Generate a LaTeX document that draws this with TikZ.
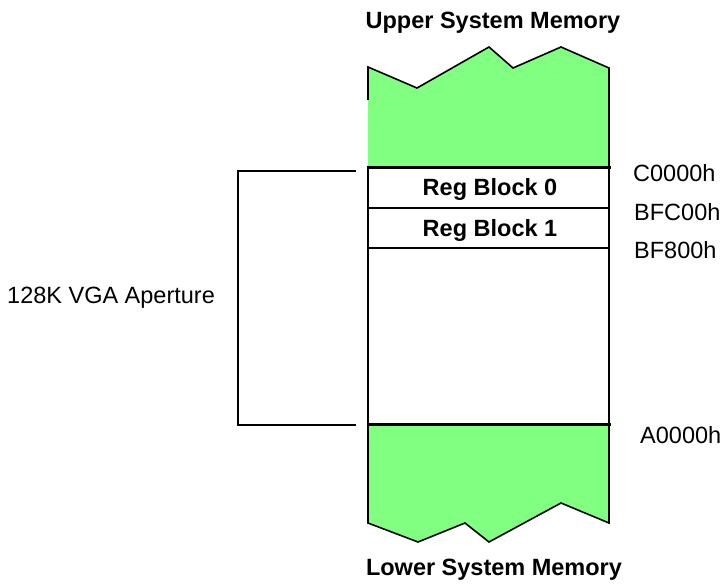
\documentclass[tikz,border=0pt]{standalone}
\usepackage{fontspec}
\setmainfont{Liberation Sans}
\definecolor{memgreen}{HTML}{80FF80}
\begin{document}
\begin{tikzpicture}[x=1pt,y=-1pt,
  lbl/.style={inner sep=0pt, font=\fontsize{23.5}{28}\selectfont},
  blbl/.style={lbl, font=\fontsize{23.5}{28}\selectfont\bfseries},
  thin/.style={line width=1.6pt},
  thick/.style={line width=3pt},
  memfill/.style={fill=memgreen}]
\useasboundingbox (0,0) rectangle (722,583);
% upper memory
\fill[memfill] (368,67) -- (417,88) -- (489,47) -- (513,68) -- (561,47) -- (609,68) -- (609,167) -- (368,167) -- cycle;
\draw[thin,line join=miter] (368,100) -- (368,67) -- (417,88) -- (489,47) -- (513,68) -- (561,47) -- (609,68) -- (609,167);
% lower memory
\fill[memfill] (368,424) -- (609,424) -- (609,523) -- (561,503) -- (489,542) -- (465,523) -- (418,542) -- (368,523) -- cycle;
\draw[thin] (368,424) -- (368,480);
\draw[thin] (609,424) -- (609,490);
\draw[thin,line join=miter] (609,490) -- (609,523) -- (561,503) -- (489,542) -- (465,523) -- (418,542) -- (368,523) -- (368,480);
% aperture box
\coordinate (tl) at (368,167);
\coordinate (tr) at (609,167);
\coordinate (bl) at (368,424);
\coordinate (br) at (609,424);
\draw[thin] (tl) -- (bl);
\draw[thin] (tr) -- (br);
\coordinate (m1l) at (368,208);
\coordinate (m1r) at (609,208);
\coordinate (m2l) at (368,248);
\coordinate (m2r) at (609,248);
\draw[thin] (m1l) -- (m1r);
\draw[thin] (m2l) -- (m2r);
\draw[thick] (366.5,167) -- (610.5,167);
\draw[thick] (366.5,424) -- (610.5,424);
% texts
\node[blbl] (upper) at (493,22.5) {Upper System Memory};
\node[blbl] (lower) at (494,570) {Lower System Memory};
\node[blbl] (rb0) at (490,189) {Reg Block 0};
\node[blbl] (rb1) at (490,230.5) {Reg Block 1};
\node[lbl,anchor=west] (c0) at (633,173) {C0000h};
\node[lbl,anchor=west] (bfc) at (634,212) {BFC00h};
\node[lbl,anchor=west] (bf8) at (634,250) {BF800h};
\node[lbl,anchor=west] (a0) at (640,435) {A0000h};
\node[lbl,anchor=west] (vga) at (7,298) {128K VGA Aperture};
% bracket
\coordinate (bt) at (356,171);
\coordinate (bb) at (356,425);
\draw[thin] (bt) -- (238,171) -- (238,425) -- (bb);
\end{tikzpicture}
\end{document}
